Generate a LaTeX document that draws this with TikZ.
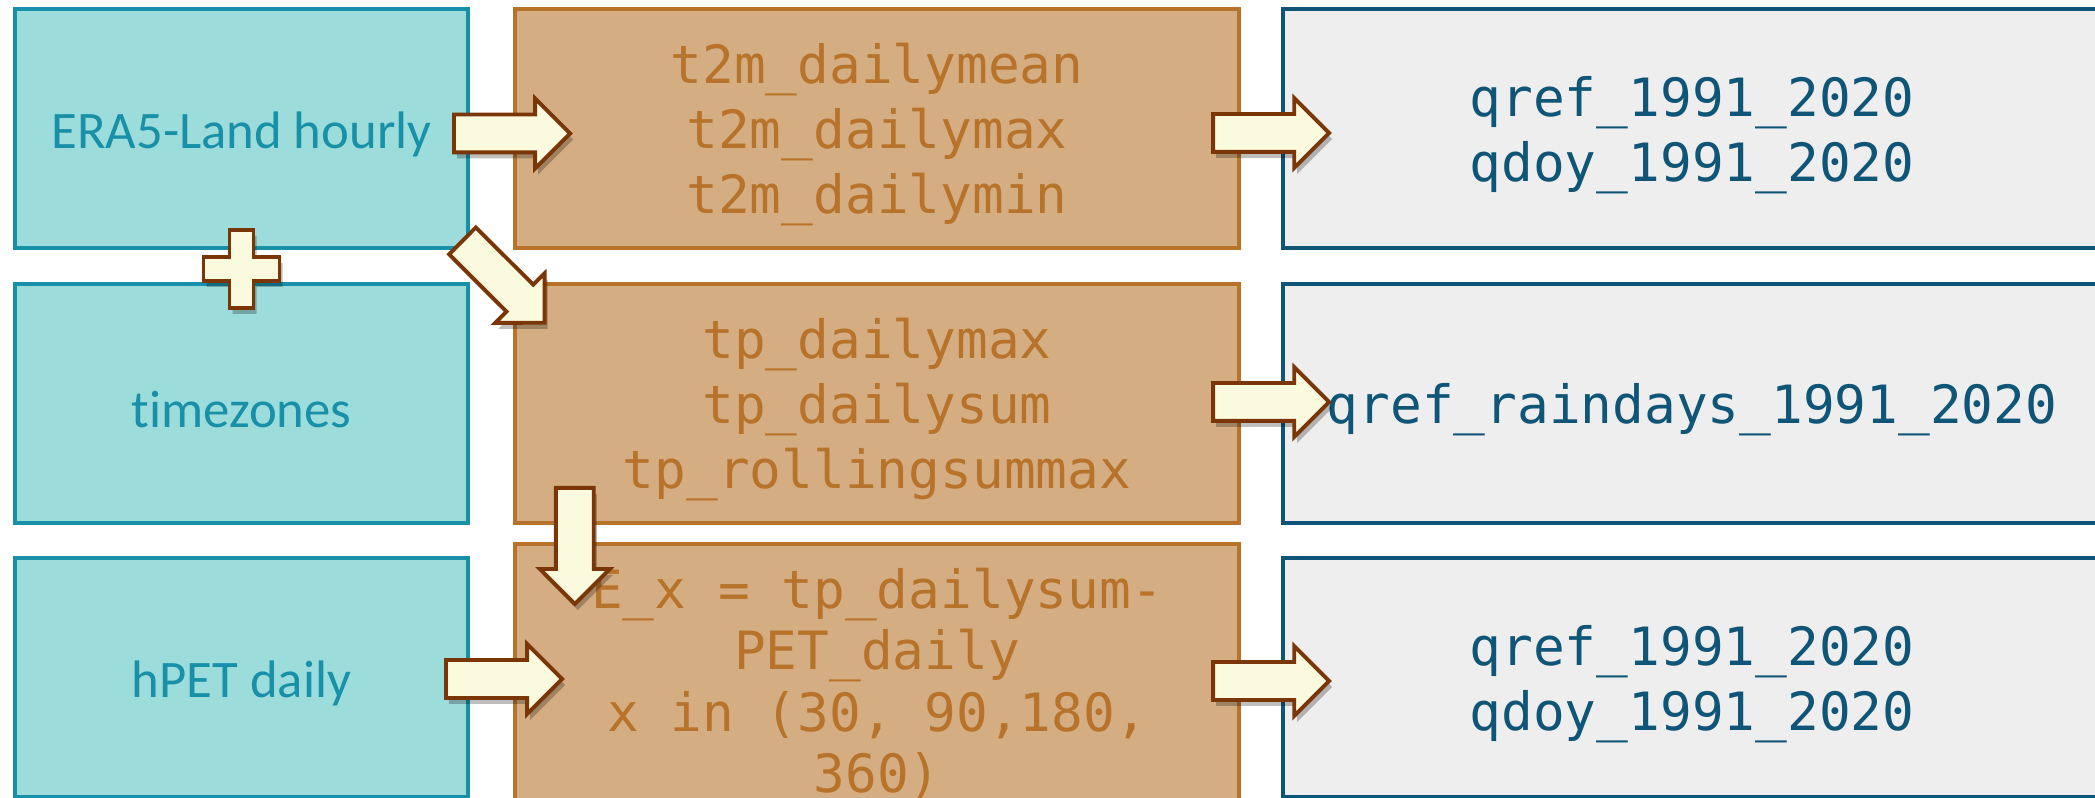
\documentclass[tikz,border=0pt]{standalone}
\usepackage{fontspec}
\setmainfont{Carlito}[Ligatures=NoCommon]
\setmonofont{DejaVu Sans Mono}
\usetikzlibrary{shapes,arrows,calc,shadows}

\definecolor{tealfill}{HTML}{9CDCDB}
\definecolor{tealline}{HTML}{1790A8}
\definecolor{tanfill}{HTML}{D4AE82}
\definecolor{tanline}{HTML}{B8732A}
\definecolor{greyfill}{HTML}{EEEEEE}
\definecolor{greyline}{HTML}{0F5577}
\definecolor{arrfill}{HTML}{FAFADF}
\definecolor{arrline}{HTML}{7B3608}
\newcommand{\topstrut}{\rule{0pt}{15pt}}

\begin{document}
\begin{tikzpicture}[x=0.01cm,y=0.01cm,
    every node/.style={line width=1.1pt,minimum height=2.39cm,align=center},
    inbox/.style={draw=tealline,fill=tealfill,text=tealline,minimum width=4.53cm,
      font=\fontsize{15}{18.5}\selectfont,execute at begin node={\rule{0pt}{14pt}}},
    midbox/.style={draw=tanline,fill=tanfill,text=tanline,minimum width=7.24cm,
      font=\ttfamily\fontsize{15}{18.5}\selectfont},
    outbox/.style={draw=greyline,fill=greyfill,text=greyline,minimum width=8.18cm,
      font=\ttfamily\fontsize{15}{18.5}\selectfont},
    blkarrow/.style={single arrow,draw=arrline,fill=arrfill,line width=1.1pt,
      minimum height=1.16cm,minimum width=0pt,inner xsep=0pt,inner ysep=0.17cm,
      single arrow head extend=0.16cm,single arrow tip angle=90,
      sloped,allow upside down,pos=0,anchor=tail,
      drop shadow={shadow xshift=0.03cm,shadow yshift=-0.06cm,fill=black,opacity=0.25}},
    plussign/.style={draw=arrline,fill=arrfill,line width=1.1pt,
      drop shadow={shadow xshift=0.03cm,shadow yshift=-0.06cm,fill=black,opacity=0.25}}]
  \useasboundingbox (0,0) rectangle (2095,798);
  % inputs
  \node[inbox]  (era)   at (241.5,669.5) {ERA5-Land hourly};
  \node[inbox]  (tz)    at (241.5,394.5) {timezones};
  \node[inbox]  (hpet)  at (241.5,120.5) {hPET daily};
  % daily fields
  \node[midbox] (t2m)   at (877,669.5) {\topstrut t2m\_dailymean\\t2m\_dailymax\\t2m\_dailymin};
  \node[midbox] (tp)    at (877,394.5) {\topstrut tp\_dailymax\\tp\_dailysum\\tp\_rollingsummax};
  \node[midbox,font=\ttfamily\fontsize{15}{17.5}\selectfont]
                (ex)    at (877,120.5) {\topstrut E\_x = tp\_dailysum-\\PET\_daily\\x in (30, 90,180,\\360)};
  % references
  \node[outbox] (qref)  at (1692,669.5) {\topstrut qref\_1991\_2020\\qdoy\_1991\_2020};
  \node[outbox] (qrain) at (1692,394.5) {\topstrut qref\_raindays\_1991\_2020};
  \node[outbox] (qspei) at (1692,120.5) {\topstrut qref\_1991\_2020\\qdoy\_1991\_2020};

  \coordinate (pls) at ($(era.south)!0.5!(tz.north)+(0,-3)$);
  \draw[plussign,shift={(pls)}] (-12,39) -- (12,39) -- (12,12) -- (38,12) -- (38,-12) -- (12,-12)
    -- (12,-39) -- (-12,-39) -- (-12,-12) -- (-38,-12) -- (-38,12) -- (-12,12) -- cycle;

  \path ($(era.east)+(-18,-5)$) -- node[blkarrow] {} ($(t2m.west)+(59,-5)$);
  \path ($(era.south east)+(-9,10.5)$) -- node[blkarrow] {} ($(tp.north west)+(33,-42)$);
  \path ($(tp.south west)+(62,39)$) -- node[blkarrow] {} ($(ex.north west)+(62,-49)$);
  \path ($(hpet.east)+(-26,-1.5)$) -- node[blkarrow] {} ($(ex.west)+(48,-1.5)$);
  \path ($(t2m.east)+(-30,-4.5)$) -- node[blkarrow] {} ($(qref.west)+(51,-4.5)$);
  \path ($(tp.east)+(-30,1.5)$) -- node[blkarrow] {} ($(qrain.west)+(51,1.5)$);
  \path ($(ex.east)+(-30,-3.5)$) -- node[blkarrow] {} ($(qspei.west)+(51,-3.5)$);
\end{tikzpicture}
\end{document}
